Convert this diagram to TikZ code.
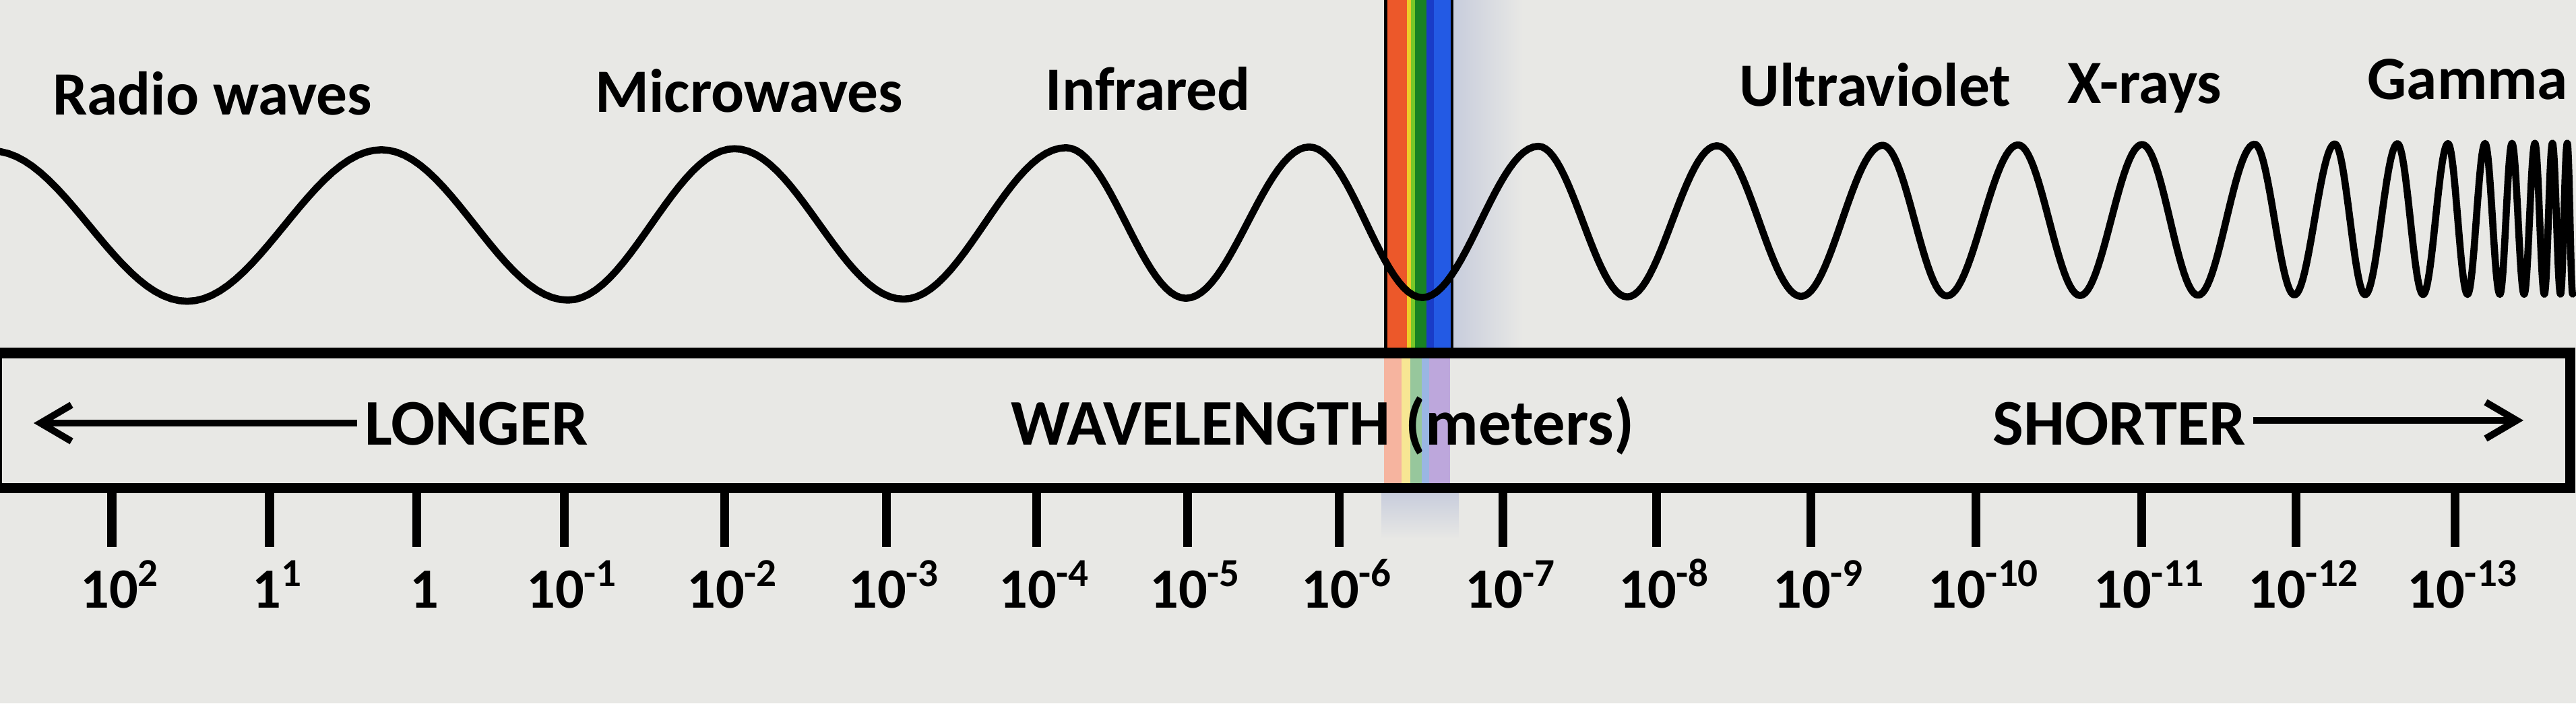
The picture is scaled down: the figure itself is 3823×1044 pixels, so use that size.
\documentclass[tikz,border=0pt]{standalone}
\usepackage{fontspec}
\setmainfont{Carlito}
\usetikzlibrary{arrows.meta, positioning}
\definecolor{paper}{RGB}{232,232,229}
\definecolor{haze}{RGB}{200,205,220}
\definecolor{specRed}{RGB}{236,88,42}
\definecolor{specYellow}{RGB}{238,205,40}
\definecolor{specLime}{RGB}{120,200,40}
\definecolor{specGreen}{RGB}{25,130,35}
\definecolor{specDeep}{RGB}{25,60,200}
\definecolor{specBlue}{RGB}{35,90,228}

\begin{document}
\begin{tikzpicture}[x=0.01cm, y=-0.01cm, >={Straight Barb[length=4.6mm,width=5.4mm]},
  band/.style={draw, line width=4.3pt, minimum width=38.16cm, minimum height=2cm, inner sep=0pt},
  tick/.style={line width=3.7pt},
  wave/.style={line width=3pt, line cap=round, line join=round},
  kind/.style={font=\fontsize{26}{30}\selectfont\bfseries, anchor=base, inner sep=0pt},
  dir/.style={font=\fontsize{27.5}{32}\selectfont\bfseries, anchor=base, inner sep=3pt},
  power/.style={font=\fontsize{24}{28}\selectfont\bfseries, anchor=base, inner sep=0pt},
  pointer/.style={->, line width=2.9pt}]
\fill[paper] (0,0) rectangle (3823,1044);
\useasboundingbox (0,0) rectangle (3823,1044);

\shade[left color=haze, right color=paper] (2157,0) rectangle (2260,516);
\shade[top color=haze, bottom color=paper] (2050,732) rectangle (2165,800);

\foreach \l/\r/\c in {2054/2059/black, 2059/2088/specRed, 2088/2094/specYellow, 2094/2100/specLime, 2100/2117/specGreen, 2117/2128/specDeep, 2128/2153/specBlue, 2153/2157/black}
  \fill[\c] (\l,0) rectangle (\r,524);
\foreach \l/\r/\c in {2054/2080/specRed!45!white, 2080/2093/specYellow!50!white, 2093/2110/specGreen!45!white, 2110/2121/cyan!50!blue!40!white, 2121/2152/specBlue!40!violet!40!white}
  \fill[\c] (\l,524) rectangle (\r,724);

\draw[wave] \foreach \a/\b [count=\i, evaluate=\i as \sg using {2*mod(\i,2)-1}] in {-12/278, 278/566, 566/843, 843/1090, 1090/1341, 1341/1582, 1582/1760, 1760/1943, 1943/2111, 2111/2283, 2283/2415, 2415/2548, 2548/2673, 2673/2794, 2794/2889, 2889/2995, 2995/3087, 3087/3179, 3179/3262, 3262/3346, 3346/3405, 3405/3465, 3465/3510, 3510/3558, 3558/3596, 3596/3633, 3633/3662, 3662/3688, 3688/3710, 3710/3728, 3728/3746, 3746/3762, 3762/3776, 3776/3788, 3788/3800, 3800/3810, 3810/3818}
  { plot[domain=0:180, samples=25] ({\a+(\b-\a)*(\x/180)}, {336-0.003*(\a+(\b-\a)*(\x/180))-\sg*112*cos(\x)}) };

\node[kind] (radio) at (315,170) {Radio waves};
\node[kind] (micro) at (1112,166) {Microwaves};
\node[kind] (infra) at (1704,163) {Infrared};
\node[kind] (ultra) at (2783,157) {Ultraviolet};
\node[kind] (xray) at (3183,153) {X-rays};
\node[kind, anchor=base west] (gamma) at (3513,147) {Gamma};

\node[band] (band) at (1905,624) {};
\node[dir] (longer) at (707,660) {LONGER};
\node[dir] (wl) at (1963,660) {WAVELENGTH (meters)};
\node[dir] (shorter) at (3145,660) {SHORTER};
\coordinate (lend) at (50,628);
\coordinate (rend) at (3745,624);
\draw[pointer] (longer.west |- lend) -- (lend);
\draw[pointer] (shorter.east |- rend) -- (rend);

\foreach \x/\t [count=\i] in {166/10\textsuperscript{2}, 400/1\textsuperscript{1}, 618/1, 837/10\textsuperscript{-1}, 1075/10\textsuperscript{-2}, 1315/10\textsuperscript{-3}, 1538/10\textsuperscript{-4}, 1762/10\textsuperscript{-5}, 1987/10\textsuperscript{-6}, 2230/10\textsuperscript{-7}, 2458/10\textsuperscript{-8}, 2687/10\textsuperscript{-9}, 2932/10\textsuperscript{-10}, 3178/10\textsuperscript{-11}, 3407/10\textsuperscript{-12}, 3643/10\textsuperscript{-13}} {
  \coordinate (tk\i) at (\x,812);
  \draw[tick] (band.south -| tk\i) -- (tk\i);
  \node[power] (pw\i) at (\x+12,902) {\t};
}
\end{tikzpicture}
\end{document}
